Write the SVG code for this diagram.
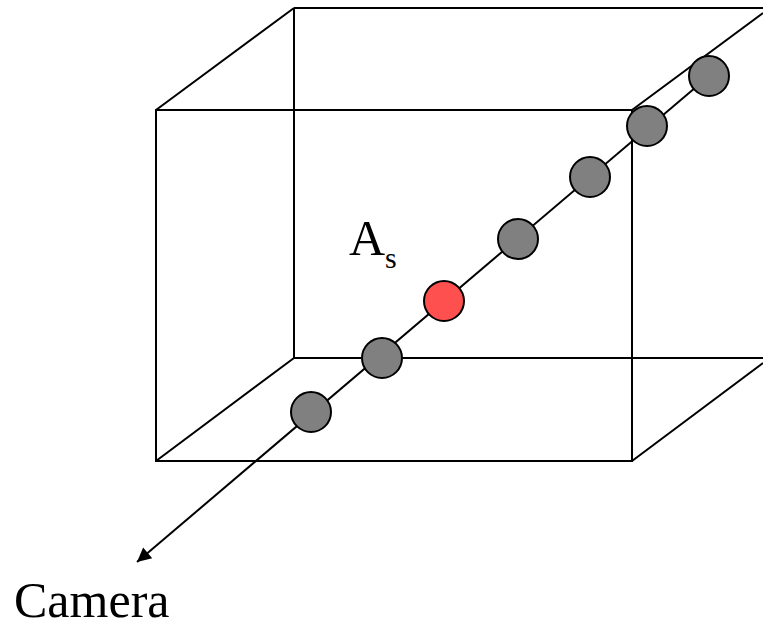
<svg xmlns="http://www.w3.org/2000/svg" width="763" height="629" viewBox="0 0 763 629">
  <style>
    .edge { stroke: #000; stroke-width: 2; fill: none; }
    .dot { fill: #808080; stroke: #000; stroke-width: 2; }
    .red { fill: #ff5050; stroke: #000; stroke-width: 2; }
    .lbl { font-family: "Liberation Serif", "Times New Roman", serif; fill: #000; }
  </style>
  <defs>
    <marker id="arrow" viewBox="0 0 10 10" refX="10" refY="5" markerWidth="9" markerHeight="7" markerUnits="strokeWidth" orient="auto">
      <path d="M0,0 L10,5 L0,10 z" fill="#000"/>
    </marker>
  </defs>
  <g id="cube">
    <rect class="edge" x="156" y="110" width="476" height="351"/>
    <line class="edge" x1="294" y1="8" x2="763" y2="8"/>
    <line class="edge" x1="294" y1="8" x2="294" y2="358"/>
    <line class="edge" x1="294" y1="358" x2="763" y2="358"/>
    <line class="edge" x1="156" y1="110" x2="294" y2="8"/>
    <line class="edge" x1="156" y1="461" x2="294" y2="358"/>
    <line class="edge" x1="632" y1="110" x2="763" y2="13"/>
    <line class="edge" x1="632" y1="461" x2="763" y2="363"/>
  </g>
  <g id="connectors">
    <line class="edge" x1="709" y1="76" x2="137" y2="562" marker-end="url(#arrow)"/>
  </g>
  <g id="samples">
    <circle id="s1" class="dot" cx="709" cy="76" r="20"/>
    <circle id="s2" class="dot" cx="647" cy="126" r="20"/>
    <circle id="s3" class="dot" cx="590" cy="177" r="20"/>
    <circle id="s4" class="dot" cx="518" cy="239" r="20"/>
    <circle id="s5" class="red" cx="444" cy="301" r="20"/>
    <circle id="s6" class="dot" cx="382" cy="358" r="20"/>
    <circle id="s7" class="dot" cx="311" cy="412" r="20"/>
  </g>
  <g id="label-as">
    <text class="lbl" x="349" y="255" font-size="50">A<tspan font-size="30" dy="13">s</tspan></text>
  </g>
  <g id="label-camera">
    <text class="lbl" x="14" y="617" font-size="50">Camera</text>
  </g>
</svg>
